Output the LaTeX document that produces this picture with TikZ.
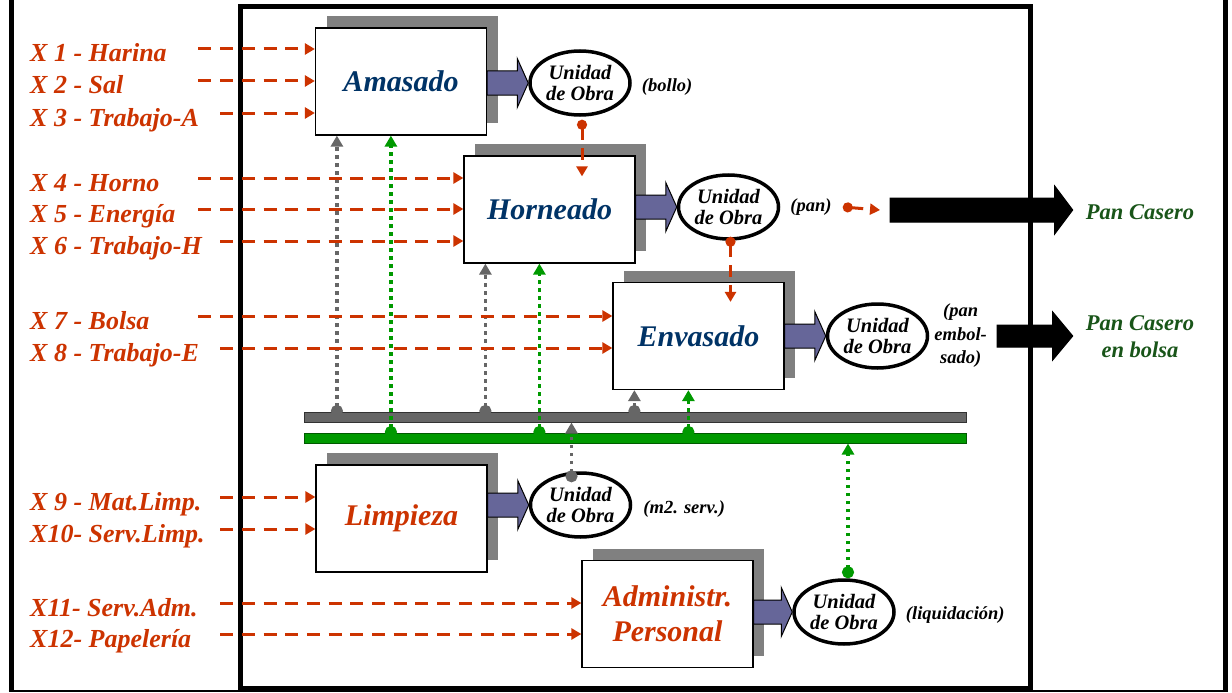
\documentclass[tikz,border=0pt]{standalone}
\usepackage{fontspec}
\setmainfont{Liberation Serif}
\usetikzlibrary{arrows.meta,shapes.geometric,shadows,calc,positioning}

\definecolor{inred}{RGB}{204,51,0}
\definecolor{boxblue}{RGB}{0,51,102}
\definecolor{outgreen}{RGB}{25,85,25}
\definecolor{busgreen}{RGB}{0,153,0}
\definecolor{darkgreen}{RGB}{0,90,0}
\definecolor{busgray}{RGB}{102,102,102}
\definecolor{darkgray}{RGB}{50,50,50}
\definecolor{shadowgray}{RGB}{128,128,128}
\definecolor{flowblue}{RGB}{102,102,153}

% block arrow: start, end, fill, half shaft, half head, head length
\newcommand{\blockarrow}[6]{%
  \path[draw=black, fill=#3, line width=1pt] let \p1=(#1), \p2=(#2) in
    (\x1,\y1+#4) -- (\x2-#6,\y1+#4) -- (\x2-#6,\y1+#5) -- (\x2,\y1)
    -- (\x2-#6,\y1-#5) -- (\x2-#6,\y1-#4) -- (\x1,\y1-#4) -- cycle;}
\newcommand{\inlab}[1]{\makebox[168pt][l]{#1}}

\begin{document}
\begin{tikzpicture}[x=1pt, y=-1pt, node distance=179pt,
  process/.style={rectangle, draw, fill=white, line width=1.2pt, minimum width=171pt, minimum height=107pt, inner sep=0pt, align=center, font=\fontsize{30}{35}\selectfont\bfseries\itshape, text=boxblue, drop shadow={shadow xshift=11pt, shadow yshift=12pt, fill=shadowgray, opacity=1}},
  udo/.style={ellipse, draw, line width=3.5pt, minimum width=100pt, minimum height=64pt, inner sep=0pt, align=center, font=\fontsize{20.5}{21}\selectfont\bfseries\itshape},
  inlabel/.style={anchor=west, inner sep=0pt, text height=28pt, text depth=2pt, font=\fontsize{26}{28}\selectfont\bfseries\itshape, text=inred},
  prodlabel/.style={inner sep=2pt, align=center, font=\fontsize{18.5}{23.5}\selectfont\bfseries\itshape},
  outlabel/.style={inner sep=2pt, align=center, font=\fontsize{22.5}{27}\selectfont\bfseries\itshape, text=outgreen},
  bus/.style={rectangle, minimum width=662pt, minimum height=10pt, inner sep=0pt, line width=1pt},
  feed/.style={draw=inred, line width=3pt, dash pattern=on 13pt off 8.7pt, -{Triangle[length=10pt,width=11pt]}},
  late/.style={shorten <=21.7pt},
  flow/.style={draw=inred, line width=3pt, dash pattern=on 12pt off 8pt, {Circle[length=10pt]}-{Triangle[length=10pt,width=11pt]}},
  graylink/.style={draw=busgray, line width=3.5pt, dash pattern=on 3.5pt off 4.5pt, {Circle[length=12pt]}-{Triangle[length=11pt,width=12pt]}},
  greenlink/.style={graylink, draw=busgreen}]

  \useasboundingbox (0,0) rectangle (1232,693);

  % frames
  \draw[line width=5pt] (11,-10) -- (11,691);
  \draw[line width=5pt] (1225.5,-10) -- (1225.5,691);
  \draw[line width=2.5pt] (8.5,691) -- (1228,691);
  \draw[line width=5pt] (240,7) rectangle (1030,688);

  % service lines
  \node[bus, fill=busgray, draw=darkgray] (grayline) at (635,417) {};
  \node[bus, fill=busgreen, draw=darkgreen] (greenline) at (635,438) {};

  % processes
  \node[process] (amasado) at (401,81.5) {Amasado};
  \node[process] (horneado) at (549.5,209.5) {Horneado};
  \node[process] (envasado) at (698.5,336) {Envasado};
  \node[process, text=inred] (limpieza) at (401.5,518.5) {Limpieza};
  \node[process, text=inred] (admin) at (667.5,614) {Administr.\\Personal};

  \node[udo] (udo1) [right of=amasado, yshift=-1.5pt] {Unidad\\de Obra};
  \node[udo] (udo2) [right of=horneado, yshift=2.5pt] {Unidad\\de Obra};
  \node[udo] (udo3) [right of=envasado] {Unidad\\de Obra};
  \node[udo] (udo4) [right of=limpieza, yshift=13.5pt] {Unidad\\de Obra};
  \node[udo] (udo5) [right of=admin, xshift=-2.5pt, yshift=2pt] {Unidad\\de Obra};

  \node[prodlabel, right=8pt of udo1, yshift=-4pt] (bollo) {(bollo)};
  \node[prodlabel, right=8pt of udo2] (pan) {(pan)};
  \node[prodlabel, right=3pt of udo3] (embolsado) {(pan\\embol-\\sado)};
  \node[prodlabel, right=9pt of udo4, yshift=-4pt] (m2) {(m2. serv.)};
  \node[prodlabel, right=8pt of udo5, yshift=-3.5pt] (liquid) {(liquidación)};

  \node[outlabel] (pancasero) at (1140,212) {Pan Casero};
  \node[outlabel] (enbolsa) at (1140,337) {Pan Casero\\en bolsa};

  % inputs
  \node[inlabel] (x1) at (30,49) {\inlab{X 1 - Harina}};
  \node[inlabel] (x2) at (30,81) {\inlab{X 2 - Sal}};
  \node[inlabel] (x3) at (30,113) {\inlab{X 3 - Trabajo-A}};
  \node[inlabel] (x4) at (30,178) {\inlab{X 4 - Horno}};
  \node[inlabel] (x5) at (30,209) {\inlab{X 5 - Energía}};
  \node[inlabel] (x6) at (30,241) {\inlab{X 6 - Trabajo-H}};
  \node[inlabel] (x7) at (30,316) {\inlab{X 7 - Bolsa}};
  \node[inlabel] (x8) at (30,348) {\inlab{X 8 - Trabajo-E}};
  \node[inlabel] (x9) at (30,497) {\inlab{X 9 - Mat.Limp.}};
  \node[inlabel] (x10) at (30,529) {\inlab{X10- Serv.Limp.}};
  \node[inlabel] (x11) at (30,603) {\inlab{X11- Serv.Adm.}};
  \node[inlabel] (x12) at (30,634) {\inlab{X12- Papelería}};

  % service links
  \coordinate (amasado-g) at ([xshift=22pt]amasado.south west);
  \coordinate (amasado-v) at ([xshift=76pt]amasado.south west);
  \coordinate (horneado-g) at ([xshift=22pt]horneado.south west);
  \coordinate (horneado-v) at ([xshift=76pt]horneado.south west);
  \coordinate (envasado-g) at ([xshift=22pt]envasado.south west);
  \coordinate (envasado-v) at ([xshift=76pt]envasado.south west);
  \coordinate (limpieza-g) at ([xshift=-9pt,yshift=-11pt]udo4.north);
  \coordinate (admin-v) at ([xshift=4pt]udo5.north);

  \path (amasado-g |- grayline.center) edge[graylink] (amasado-g);
  \path (horneado-g |- grayline.center) edge[graylink] (horneado-g);
  \path (envasado-g |- grayline.center) edge[graylink] (envasado-g);
  \path (limpieza-g) edge[graylink] (limpieza-g |- grayline.south);
  \path (amasado-v |- greenline.center) edge[greenlink] (amasado-v);
  \path (horneado-v |- greenline.center) edge[greenlink] (horneado-v);
  \path (envasado-v |- greenline.center) edge[greenlink] (envasado-v);
  \path (admin-v) edge[greenlink] (admin-v |- greenline.south);

  % input flows
  \path (x1.east) edge[feed] (x1.east -| amasado.west);
  \path (x2.east) edge[feed] (x2.east -| amasado.west);
  \path (x3.east) edge[feed, late] (x3.east -| amasado.west);
  \path (x4.east) edge[feed] (x4.east -| horneado.west);
  \path (x5.east) edge[feed] (x5.east -| horneado.west);
  \path (x6.east) edge[feed, late] (x6.east -| horneado.west);
  \path (x7.east) edge[feed] (x7.east -| envasado.west);
  \path (x8.east) edge[feed, late] (x8.east -| envasado.west);
  \path (x9.east) edge[feed, late] (x9.east -| limpieza.west);
  \path (x10.east) edge[feed, late] (x10.east -| limpieza.west);
  \path (x11.east) edge[feed, late] (x11.east -| admin.west);
  \path (x12.east) edge[feed, late] (x12.east -| admin.west);

  % product flows
  \coordinate (f1) at ([xshift=2pt,yshift=-3pt]udo1.south);
  \coordinate (h-in) at ([yshift=-21pt]horneado.north);
  \coordinate (f2) at ([xshift=2pt,yshift=4pt]udo2.south);
  \coordinate (e-in) at ([yshift=-20pt]envasado.north);
  \coordinate (out1) at (890,210);
  \path (f1) edge[flow] (f1 |- h-in);
  \path (f2) edge[flow] (f2 |- e-in);
  \path ([xshift=9pt]pan.east) edge[flow] ([xshift=-10pt]out1);

  \blockarrow{amasado.east |- udo1.west}{udo1.west}{flowblue}{12pt}{24.5pt}{11pt}
  \blockarrow{horneado.east |- udo2.west}{udo2.west}{flowblue}{12pt}{24.5pt}{11pt}
  \blockarrow{envasado.east |- udo3.west}{udo3.west}{flowblue}{12pt}{24.5pt}{11pt}
  \blockarrow{limpieza.east |- udo4.west}{udo4.west}{flowblue}{12pt}{24.5pt}{11pt}
  \blockarrow{admin.east |- udo5.west}{udo5.west}{flowblue}{12pt}{24.5pt}{11pt}
  \blockarrow{out1}{[xshift=-11pt]pancasero.west}{black}{12pt}{24pt}{18pt}
  \blockarrow{[xshift=8pt]embolsado.east}{[xshift=-11pt]enbolsa.west}{black}{11pt}{24pt}{20pt}
\end{tikzpicture}
\end{document}
